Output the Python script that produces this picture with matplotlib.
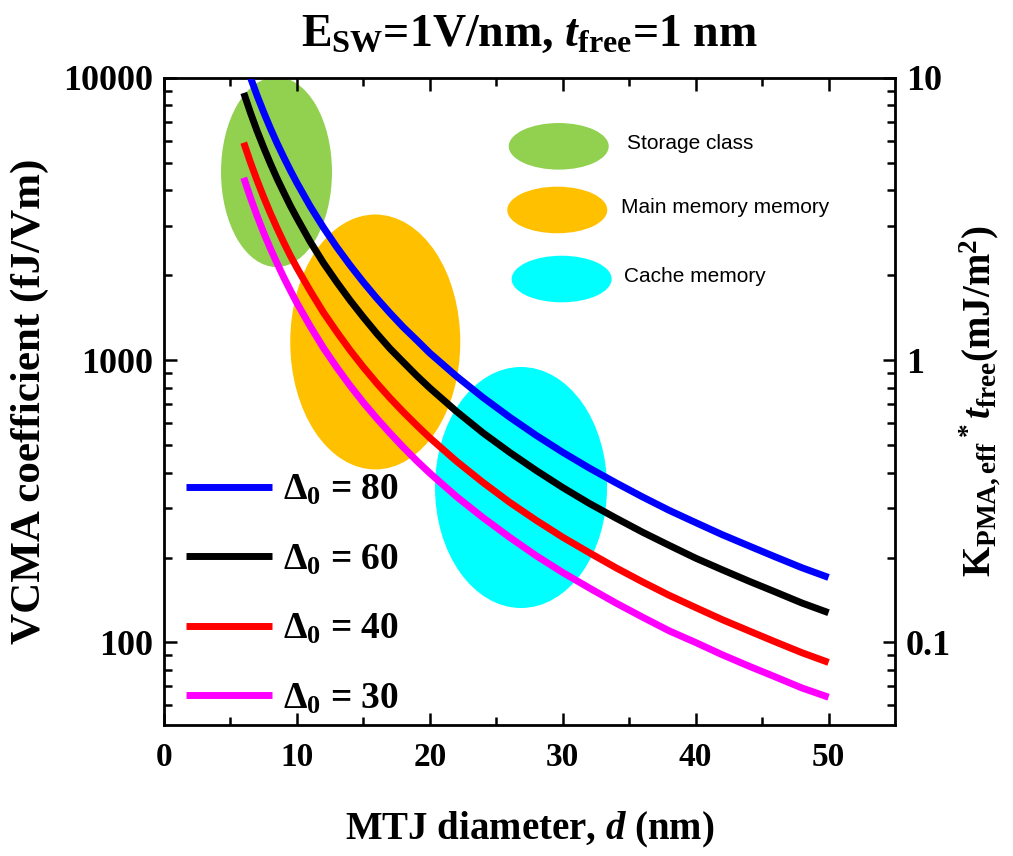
import matplotlib
matplotlib.use('Agg')
import matplotlib.pyplot as plt
from matplotlib.patches import Ellipse
from matplotlib.ticker import FixedLocator, LogLocator, NullFormatter, FuncFormatter

# MTJ diameter (nm) and VCMA coefficient (fJ/Vm)
d = [6, 6.5, 7, 7.5, 8, 8.5, 9, 9.5, 10, 11, 12, 13, 14, 15, 16, 17, 18, 19, 20,
     22, 24, 26, 28, 30, 32, 34, 36, 38, 40, 42, 44, 46, 48, 50]
vcma_80 = [11800, 10060, 8670, 7560, 6640, 5880, 5250, 4710, 4250, 3510, 2950, 2515, 2170,
           1890, 1660, 1470, 1310, 1180, 1060, 878, 738, 629, 542, 472, 415, 368, 328,
           294, 266, 241, 220, 201, 184, 170]
vcma_60 = [8850, 7540, 6500, 5670, 4980, 4410, 3940, 3530, 3190, 2630, 2210, 1890, 1630,
           1420, 1245, 1100, 985, 883, 797, 659, 553, 472, 407, 354, 311, 276, 246,
           221, 199, 181, 165, 151, 138, 127.5]
vcma_40 = [5900, 5030, 4340, 3780, 3320, 2940, 2620, 2350, 2125, 1760, 1475, 1260, 1085,
           945, 830, 735, 656, 589, 531, 439, 369, 314, 271, 236, 208, 184, 164,
           147, 133, 120.5, 110, 100.5, 92, 85]
vcma_30 = [4430, 3770, 3250, 2830, 2490, 2210, 1970, 1770, 1595, 1320, 1105, 943, 813,
           708, 623, 552, 492, 441, 398, 329, 277, 236, 203, 177, 156, 138, 123,
           110, 100, 90.5, 82.5, 75.5, 69, 64]

deltas = [80, 60, 40, 30]
line_colors = ['#0000FF', '#000000', '#FF0000', '#FF00FF']

classes = ['Storage class', 'Main memory memory', 'Cache memory']
class_colors = ['#92D050', '#FFC000', '#00FFFF']

plt.rcParams['font.family'] = 'Liberation Serif'
plt.rcParams['font.weight'] = 'bold'
plt.rcParams['axes.labelweight'] = 'bold'
plt.rcParams['axes.titleweight'] = 'bold'
plt.rcParams['mathtext.fontset'] = 'custom'
plt.rcParams['mathtext.rm'] = 'Liberation Serif:bold'
plt.rcParams['mathtext.bf'] = 'Liberation Serif:bold'
plt.rcParams['mathtext.it'] = 'Liberation Serif:bold:italic'

fig = plt.figure(figsize=(10.13, 8.56), dpi=100)
ax = fig.add_axes([0.1619, 0.153, 0.7216, 0.7559])

# region ellipses (axes fraction)
ell_pos = [((0.1539, 0.8547), 0.1518, 0.2937),
           ((0.2890, 0.5920), 0.2326, 0.3940),
           ((0.4884, 0.3671), 0.2353, 0.3725)]
for (c, w, h), col in zip(ell_pos, class_colors):
    ax.add_patch(Ellipse(c, w, h, transform=ax.transAxes, facecolor=col,
                         edgecolor='none', zorder=1))

# key ellipses with labels
key_pos = [(0.540, 0.8944), (0.538, 0.7960), (0.544, 0.6893)]
key_txt_x = [0.633, 0.625, 0.629]
for (kx, ky), tx, col, name in zip(key_pos, key_txt_x, class_colors, classes):
    ax.add_patch(Ellipse((kx, ky), 0.1368, 0.072, transform=ax.transAxes,
                         facecolor=col, edgecolor='none', zorder=1))
    ax.text(tx, ky + 0.004, name, transform=ax.transAxes, fontsize=15,
            fontweight='normal', family='Liberation Sans', va='center', ha='left')

series = [vcma_80, vcma_60, vcma_40, vcma_30]
handles = []
for vals, dl, col in zip(series, deltas, line_colors):
    h, = ax.plot(d, vals, color=col, lw=5, solid_capstyle='butt', zorder=3,
                 label=r'$\Delta_0$ = %d' % dl)
    handles.append(h)

ax.set_yscale('log')
ax.set_xlim(0, 55)
ax.set_ylim(51, 10000)
ax.xaxis.set_major_locator(FixedLocator([0, 10, 20, 30, 40, 50]))
ax.xaxis.set_minor_locator(FixedLocator([5, 15, 25, 35, 45]))
ax.yaxis.set_major_locator(FixedLocator([100, 1000, 10000]))
ax.yaxis.set_minor_locator(LogLocator(base=10, subs=range(2, 10)))
ax.yaxis.set_minor_formatter(NullFormatter())
ax.yaxis.set_major_formatter(FuncFormatter(lambda v, p: '%d' % v))

ax.tick_params(which='both', direction='in', top=True, right=False, width=1.8)
ax.tick_params(which='major', length=9)
ax.tick_params(which='minor', length=6)
ax.tick_params(axis='x', which='major', labelsize=24, pad=12)
ax.tick_params(axis='y', which='major', labelsize=26, pad=8)
for s in ax.spines.values():
    s.set_linewidth(2)

ax2 = ax.twinx()
ax2.set_yscale('log')
ax2.set_ylim(0.051, 10)
ax2.yaxis.set_major_locator(FixedLocator([0.1, 1, 10]))
ax2.yaxis.set_minor_locator(LogLocator(base=10, subs=range(2, 10)))
ax2.yaxis.set_minor_formatter(NullFormatter())
ax2.yaxis.set_major_formatter(FuncFormatter(lambda v, p: '%g' % v))
ax2.tick_params(which='both', direction='in', width=1.8)
ax2.tick_params(which='major', length=9, labelsize=26, pad=8)
ax2.tick_params(which='minor', length=6)

ax.set_xlabel(r'MTJ diameter, $d$ (nm)', fontsize=28, labelpad=27)
ax.set_ylabel('VCMA coefficient (fJ/Vm)', fontsize=31, labelpad=10)
ax2.set_ylabel(r'K$_\mathrm{PMA,eff}$$^*$$t$$_\mathrm{free}$(mJ/m$^2$)',
               fontsize=28, labelpad=4)
ax.set_title(r'E$_\mathrm{SW}$=1V/nm, $t$$_\mathrm{free}$=1 nm', fontsize=33, pad=23)

ax.legend(handles=handles, loc='upper left', bbox_to_anchor=(0.03, 0.39),
          frameon=False, fontsize=27, handlelength=2.3, handletextpad=0.3,
          labelspacing=0.92, borderpad=0, borderaxespad=0)

fig.savefig('out.png', dpi=100)
